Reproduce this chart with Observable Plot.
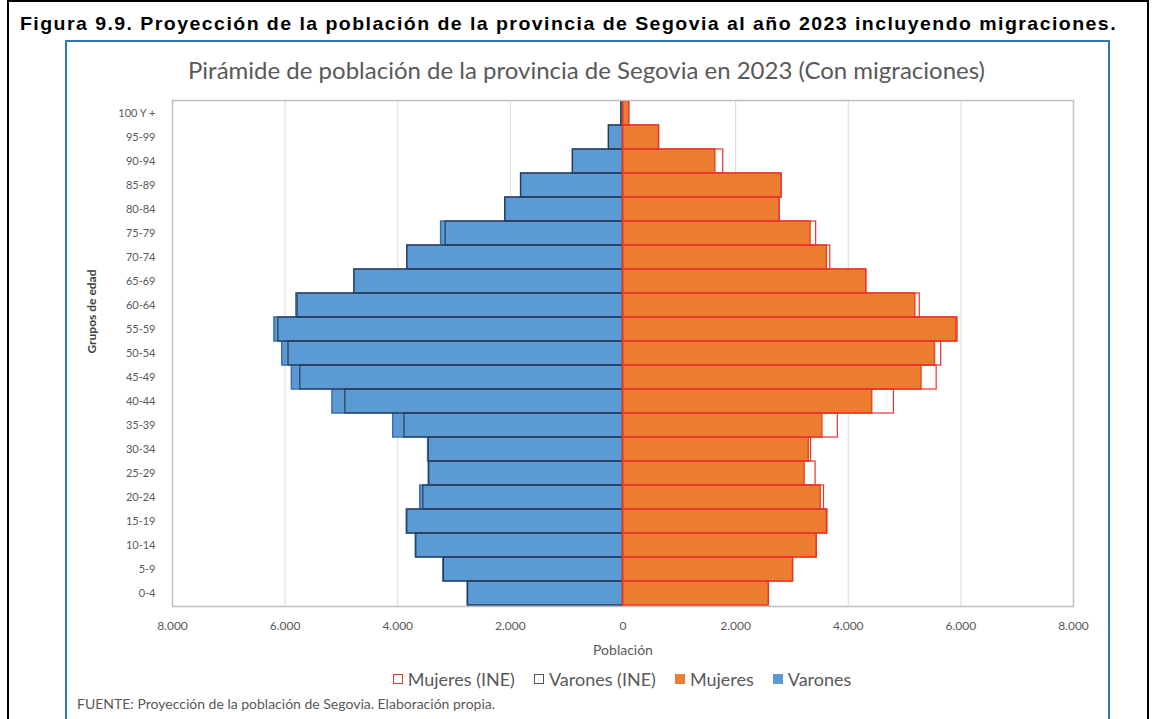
<!DOCTYPE html>
<html>
<head>
<meta charset="utf-8">
<script src="https://cdn.jsdelivr.net/npm/d3@7"></script>
<script src="https://cdn.jsdelivr.net/npm/@observablehq/plot@0.6"></script>
<style>
  html, body { margin: 0; padding: 0; background: #fff; }
  body { width: 1153px; height: 719px; overflow: hidden; position: relative; }
  #outer { position: absolute; left: 7px; top: 0px; width: 1142px; height: 760px;
           border: 2px solid #000; box-sizing: border-box; }
  #figtitle { position: absolute; left: 20px; top: 13px; white-space: nowrap; transform-origin: 0 0;
              font-family: "Liberation Sans", Arial, sans-serif;
              font-weight: bold; font-size: 19px; letter-spacing: 1.4px; color: #000; }
  #box { position: absolute; left: 65px; top: 40px; width: 1045px; height: 760px;
         border: 2px solid #2e75b6; box-sizing: border-box; }
  #charttitle { position: absolute; left: 65px; width: 1043px; top: 55px; text-align: center;
                font-family: Lato, "Open Sans", sans-serif; font-size: 24px; color: #595959; white-space: nowrap; }
  #chart { position: absolute; left: 65px; top: 40px; }
  #legend { position: absolute; left: 0; width: 1244px; top: 668px; display: flex; justify-content: center;
            font-family: Lato, "Open Sans", sans-serif; font-size: 18px; color: #595959; gap: 19px; }
  #legend .item { display: flex; align-items: center; gap: 5px; }
  #legend .sw { width: 10px; height: 10px; box-sizing: border-box; display: inline-block; }
  #footer { position: absolute; left: 77px; top: 695px; font-family: Lato, "Open Sans", sans-serif;
            font-size: 14px; color: #595959; white-space: nowrap; }
</style>
</head>
<body>
<div id="outer"></div>
<div id="figtitle">Figura 9.9. Proyección de la población de la provincia de Segovia al año 2023 incluyendo migraciones.</div>
<div id="box"></div>
<div id="charttitle">Pirámide de población de la provincia de Segovia en 2023 (Con migraciones)</div>
<div id="chart"></div>
<div id="legend"></div>
<div id="footer">FUENTE: Proyección de la población de Segovia. Elaboración propia.</div>
<script>
const grupos = ["100 Y +","95-99","90-94","85-89","80-84","75-79","70-74","65-69","60-64","55-59","50-54","45-49","40-44","35-39","30-34","25-29","20-24","15-19","10-14","5-9","0-4"];
const varones    = [30,250,890,1810,2090,3230,3830,4770,5800,6190,6050,5880,5160,4080,3460,3450,3600,3840,3680,3190,2760];
const varonesINE = [30,250,890,1810,2090,3150,3830,4770,5780,6120,5940,5730,4930,3880,3450,3440,3545,3830,3670,3180,2750];
const mujeres    = [110,640,1640,2815,2780,3330,3620,4320,5190,5940,5540,5300,4425,3540,3300,3225,3510,3630,3440,3020,2590];
const mujeresINE = [110,640,1780,2815,2780,3430,3680,4320,5270,5920,5650,5570,4810,3815,3340,3420,3570,3620,3440,3020,2590];
const xTicks = [-8000,-6000,-4000,-2000,0,2000,4000,6000,8000];
const series = ["Mujeres (INE)","Varones (INE)","Mujeres","Varones"];

const C = {
  blue: "#5b9bd5", blueStroke: "#3b6fa6",
  orange: "#ed7d31", orangeStroke: "#f0481a",
  ineF: "#f03030", ineM: "#2b3a55"
};

const rows = grupos.map((g, i) => ({
  g, v: varones[i], vi: varonesINE[i], m: mujeres[i], mi: mujeresINE[i]
}));

const es = d3.formatLocale({decimal: ",", thousands: ".", grouping: [3], currency: ["", "€"]});
const fmt = es.format(",");

const W = 1043, mL = 107, mR = 35, mT = 60, plotH = 506, mB = 70;

const chart = Plot.plot({
  width: W,
  height: mT + plotH + mB,
  marginLeft: mL, marginRight: mR, marginTop: mT, marginBottom: mB,
  style: { fontFamily: "Lato, 'Open Sans', sans-serif", fontSize: "11px", color: "#595959", background: "transparent" },
  x: { domain: [-8000, 8000], ticks: xTicks, tickFormat: d => fmt(Math.abs(d)) },
  y: { domain: grupos, padding: 0 },
  marks: [
    Plot.gridX(xTicks, { stroke: "#d9d9d9", strokeOpacity: 1, strokeWidth: 1 }),
    Plot.barX(rows, { y: "g", x1: 0, x2: d => -d.v, fill: C.blue, stroke: C.blueStroke, strokeWidth: 1.5 }),
    Plot.barX(rows, { y: "g", x1: 0, x2: d => d.m, fill: C.orange, stroke: C.orangeStroke, strokeWidth: 1.5 }),
    Plot.barX(rows, { y: "g", x1: 0, x2: d => -d.vi, fill: "none", stroke: C.ineM, strokeWidth: 1.2 }),
    Plot.barX(rows, { y: "g", x1: 0, x2: d => d.mi, fill: "none", stroke: C.ineF, strokeWidth: 1.2 }),
    Plot.frame({ stroke: "#bfbfbf", strokeWidth: 1.5 }),
    Plot.axisX({ ticks: xTicks, tickFormat: d => fmt(Math.abs(d)), tickSize: 0, tickPadding: 15, label: null, fontSize: 12, fill: "#595959" }),
    Plot.axisY({ tickSize: 0, tickPadding: 17, label: null, fontSize: 11, fill: "#595959" }),
    Plot.text(["Población"], { text: d => d, frameAnchor: "bottom", dy: 48, fontSize: 14, fill: "#595959" }),
    Plot.text(["Grupos de edad"], { text: d => d, frameAnchor: "left", rotate: -90, dx: -80, fontSize: 12, fontWeight: "bold", fill: "#404040" })
  ]
});
document.getElementById("chart").appendChild(chart);

// legend
const sw = {
  "Mujeres (INE)": `background:#fff;border:1.5px solid ${C.ineF}`,
  "Varones (INE)": `background:#fff;border:1.5px solid #555`,
  "Mujeres": `background:${C.orange}`,
  "Varones": `background:${C.blue}`
};
const leg = document.getElementById("legend");
series.forEach(s => {
  const it = document.createElement("div");
  it.className = "item";
  it.innerHTML = `<span class="sw" style="${sw[s]}"></span><span>${s}</span>`;
  leg.appendChild(it);
});

// condense the figure title to the reference width
const ft = document.getElementById("figtitle");
const w0 = ft.getBoundingClientRect().width;
ft.style.transform = `scaleX(${1097 / w0})`;
</script>
</body>
</html>
